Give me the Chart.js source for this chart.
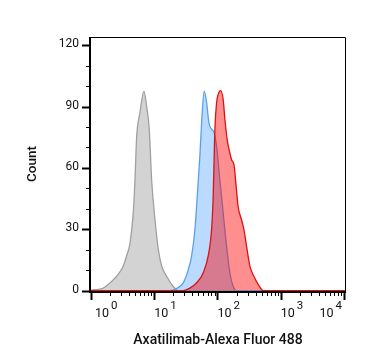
<!DOCTYPE html>
<html>
<head>
<meta charset="utf-8">
<script src="https://cdn.jsdelivr.net/npm/chart.js@4.4.1/dist/chart.umd.min.js"></script>
<style>
  html, body { margin: 0; padding: 0; background: #fff; }
  #wrap { width: 367px; height: 364px; }
</style>
</head>
<body>
<div id="wrap"><canvas id="histo" width="367" height="364"></canvas></div>
<script>
// fluorescence values (x) and counts (y)
var grayX = [0.965, 1.0, 1.23, 1.56, 2.0, 2.55, 3.24, 3.66, 4.13, 4.66, 4.96, 5.27, 5.94, 6.87, 7.59, 8.34, 9.1, 10.26, 11.6, 13.1, 15.7, 20, 23.7, 10750];
var grayY = [0, 0.2, 0.5, 1.2, 3.8, 7, 12, 17, 23, 38, 54, 75, 87, 97.5, 90, 79, 54, 35, 20, 12, 7, 2, 0, 0];

var blueX = [0.965, 17.7, 22.6, 28.7, 34.4, 39, 44, 47.8, 52.7, 56.1, 61.6, 67.3, 73.2, 80.7, 87.8, 96.8, 109, 123, 139, 157, 177, 200, 10750];
var blueY = [0, 0, 1, 3.8, 10, 17, 30, 46, 66, 82, 97.5, 92, 82, 79, 77.5, 70.6, 54, 38, 21.7, 8.6, 2, 0, 0];

var redX = [0.965, 28.7, 36.6, 46.8, 59.4, 71.3, 80.7, 85.5, 88.7, 91, 96.8, 102.6, 112, 123, 131, 142, 157, 167, 182, 193, 212, 240, 261, 288, 325, 376, 440, 527, 10750];
var redY = [0, 0, 1.2, 3.8, 8.6, 17, 30, 46, 66, 79, 92, 96, 97.8, 93.4, 83.7, 74, 67.4, 64, 61.6, 54.3, 41, 34.7, 30, 21.7, 12, 7, 3, 0, 0];

var xMajor = [1, 10, 100, 1000, 10000];
var xSup = ['0', '1', '2', '3', '4'];
var xMinorMult = [2, 3, 4, 5, 6, 7, 8, 9];
var yMajor = [0, 30, 60, 90, 120];
var yMinor = [10, 20, 40, 50, 70, 80, 100, 110];

function pts(xs, ys) {
	var out = [];
	for (var i = 0; i < xs.length; i++) out.push({x: xs[i], y: ys[i]});
	return out;
}

var axesPlugin = {
	id: 'flowAxes',
	afterDraw: function(chart) {
		var ctx = chart.ctx;
		var a = chart.chartArea;
		var xs = chart.scales.x, ys = chart.scales.y;
		ctx.save();
		ctx.strokeStyle = '#000';
		ctx.fillStyle = '#111';

		// frame
		ctx.lineWidth = 1;
		ctx.beginPath();
		ctx.moveTo(a.left, a.top + 0.5);
		ctx.lineTo(a.right - 0.5, a.top + 0.5);
		ctx.lineTo(a.right - 0.5, a.bottom);
		ctx.stroke();
		ctx.lineWidth = 2;
		ctx.beginPath();
		ctx.moveTo(a.left, a.top);
		ctx.lineTo(a.left, a.bottom);
		ctx.lineTo(a.right, a.bottom);
		ctx.stroke();

		// y ticks
		ctx.font = '12px Roboto';
		ctx.textAlign = 'right';
		ctx.textBaseline = 'middle';
		yMajor.forEach(function(v) {
			var py = Math.round(ys.getPixelForValue(v)) + 0.5;
			ctx.lineWidth = 2;
			ctx.beginPath(); ctx.moveTo(a.left - 8, py); ctx.lineTo(a.left, py); ctx.stroke();
			ctx.fillText(String(v), a.left - 11, py - 2);
		});
		yMinor.forEach(function(v) {
			var py = Math.round(ys.getPixelForValue(v)) + 0.5;
			ctx.lineWidth = 1;
			ctx.beginPath(); ctx.moveTo(a.left - 4, py); ctx.lineTo(a.left, py); ctx.stroke();
		});

		// x ticks
		xMajor.forEach(function(v, i) {
			var px = Math.round(xs.getPixelForValue(v)) + 0.5;
			ctx.lineWidth = 2;
			ctx.beginPath(); ctx.moveTo(px, a.bottom); ctx.lineTo(px, a.bottom + 8); ctx.stroke();
			if (i < xMajor.length - 1) {
				xMinorMult.forEach(function(m) {
					var qx = Math.round(xs.getPixelForValue(v * m)) + 0.5;
					ctx.lineWidth = 1;
					ctx.beginPath(); ctx.moveTo(qx, a.bottom); ctx.lineTo(qx, a.bottom + 4); ctx.stroke();
				});
			}
		});

		// x labels: 10 with superscript exponent
		ctx.textAlign = 'left';
		ctx.textBaseline = 'alphabetic';
		xMajor.forEach(function(v, i) {
			var px = xs.getPixelForValue(v);
			ctx.font = '12.5px Roboto';
			var w1 = ctx.measureText('10').width;
			ctx.font = '11.5px Roboto';
			var w2 = ctx.measureText(xSup[i]).width;
			var left = Math.max(px, a.left + 5);
			if (left + w1 + 2 + w2 > a.right - 4) left = a.right - 4 - w1 - 2 - w2;
			ctx.font = '12.5px Roboto';
			ctx.fillText('10', left, a.bottom + 25);
			ctx.font = '11.5px Roboto';
			ctx.fillText(xSup[i], left + w1 + 2, a.bottom + 17);
		});

		// axis titles
		ctx.font = '500 14px Roboto';
		ctx.textAlign = 'center';
		ctx.textBaseline = 'middle';
		ctx.fillText('Axatilimab-Alexa Fluor 488', (a.left + a.right) / 2, 340);
		ctx.font = '500 13.5px Roboto';
		ctx.translate(33, 164);
		ctx.rotate(-Math.PI / 2);
		ctx.fillText('Count', 0, 0);
		ctx.restore();
	}
};

var ctx = document.getElementById('histo');
var histChart = new Chart(ctx, {
	type: 'line',
	data: {
		datasets: [
			{
				label: 'Isotype',
				data: pts(grayX, grayY),
				borderColor: '#a0a0a0',
				backgroundColor: 'rgba(200, 200, 200, 0.8)',
				fill: 'origin',
				order: 3
			},
			{
				label: 'Unstained',
				data: pts(blueX, blueY),
				borderColor: '#5aa0e8',
				backgroundColor: 'rgba(40, 140, 255, 0.32)',
				fill: 'origin',
				order: 2
			},
			{
				label: 'Axatilimab',
				data: pts(redX, redY),
				borderColor: '#dd1111',
				backgroundColor: 'rgba(255, 0, 0, 0.44)',
				fill: 'origin',
				order: 1
			}
		]
	},
	options: {
		responsive: false,
		animation: false,
		devicePixelRatio: 1,
		layout: { padding: { left: 90, right: 21, top: 37, bottom: 72 } },
		elements: {
			point: { radius: 0 },
			line: { borderWidth: 1.3, cubicInterpolationMode: 'monotone' }
		},
		plugins: { legend: { display: false }, tooltip: { enabled: false } },
		scales: {
			x: { type: 'logarithmic', min: 0.965, max: 10750, display: false },
			y: { type: 'linear', min: -0.7, max: 124.05, display: false }
		}
	},
	plugins: [axesPlugin]
});
</script>
</body>
</html>
